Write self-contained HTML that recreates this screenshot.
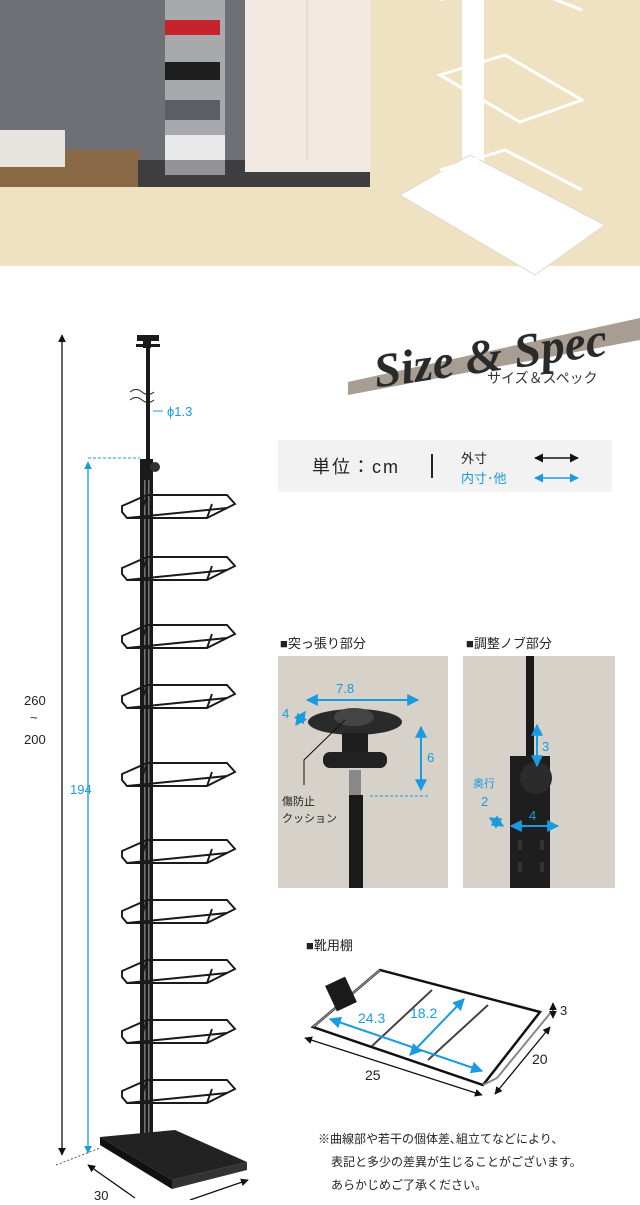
<!DOCTYPE html>
<html><head><meta charset="utf-8"><style>
body{margin:0;width:640px;height:1200px;overflow:hidden;background:#fff;font-family:"Liberation Sans","Noto Sans CJK JP",sans-serif}
</style></head><body>
<svg width="640" height="1200" viewBox="0 0 640 1200" xmlns="http://www.w3.org/2000/svg" font-family="Liberation Sans, Noto Sans CJK JP, sans-serif">
<defs>
<marker id="ak" viewBox="0 0 10 10" refX="9" refY="5" markerWidth="6" markerHeight="6" orient="auto-start-reverse"><path d="M0,0L10,5L0,10z" fill="#111"/></marker>
<marker id="ab" viewBox="0 0 10 10" refX="9" refY="5" markerWidth="6" markerHeight="6" orient="auto-start-reverse"><path d="M0,0L10,5L0,10z" fill="#1a9be0"/></marker>
<g id="shelf" fill="none" stroke="#1a1a1a" stroke-width="1.9">
<path d="M-25,6 L0,-5 L80,-5 L88,4 L60,18 L-20,18 L-25,12 Z"/>
<path d="M0,-5 L-5,10 M60,18 L65,4 M-20,18 L80,8"/>
</g>
</defs>
<rect x="0" y="0" width="640" height="266" fill="#efe2c3"/>
<rect x="0" y="0" width="370" height="187" fill="#6f7075"/>
<rect x="0" y="150" width="140" height="37" fill="#8a6a46"/>
<rect x="138" y="160" width="232" height="27" fill="#3e3e40"/>
<rect x="245" y="0" width="125" height="172" fill="#f1e9e2"/>
<line x1="307" y1="0" x2="307" y2="160" stroke="#d9cfc6"/>
<rect x="165" y="0" width="60" height="175" fill="#cfcfd0" opacity=".6"/>
<rect x="165" y="20" width="55" height="15" fill="#c5252a"/>
<rect x="165" y="62" width="55" height="18" fill="#1e1e1e"/>
<rect x="165" y="100" width="55" height="20" fill="#5a5f66"/>
<rect x="165" y="135" width="60" height="25" fill="#e9e9e9"/>
<rect x="0" y="130" width="65" height="37" fill="#e7e4df"/>
<rect x="462" y="0" width="22" height="185" fill="#fff"/>
<polygon points="400,195 470,155 605,225 535,275" fill="#fff" stroke="#e0d9cc"/>
<g fill="none" stroke="#fff" stroke-width="3"><path d="M440,75 L505,55 L582,100 L520,122 Z"/><path d="M440,0 L505,-20 L582,10"/><path d="M440,170 L505,150 L582,190"/></g>
<polygon points="348,382 640,318 640,340 348,395" fill="#a79d93"/>
<text x="372" y="374" font-family="Liberation Serif, serif" font-style="italic" font-weight="bold" font-size="48" fill="#2a2a2a" transform="rotate(-8 470 350)">Size &amp; Spec</text>
<text x="487" y="383" font-size="14" fill="#333">サイズ＆スペック</text>
<rect x="278" y="440" width="334" height="52" fill="#f2f2f2"/>
<text x="312" y="473" font-size="18" fill="#222" letter-spacing="2">単位：cm</text>
<line x1="432" y1="454" x2="432" y2="478" stroke="#222" stroke-width="2"/>
<text x="461" y="463" font-size="13" fill="#222">外寸</text>
<text x="461" y="483" font-size="13" fill="#1a9be0">内寸･他</text>
<line x1="535" y1="458" x2="578" y2="458" stroke="#111" stroke-width="1.5" marker-start="url(#ak)" marker-end="url(#ak)"/>
<line x1="535" y1="478" x2="578" y2="478" stroke="#1a9be0" stroke-width="1.5" marker-start="url(#ab)" marker-end="url(#ab)"/>
<line x1="62" y1="335" x2="62" y2="1155" stroke="#111" stroke-width="1.3" marker-start="url(#ak)" marker-end="url(#ak)"/>
<text x="24" y="705" font-size="13" fill="#222">260</text>
<text x="30" y="722" font-size="13" fill="#222">~</text>
<text x="24" y="744" font-size="13" fill="#222">200</text>
<line x1="88" y1="462" x2="88" y2="1153" stroke="#1a9be0" stroke-width="1.3" marker-start="url(#ab)" marker-end="url(#ab)"/>
<line x1="88" y1="458" x2="140" y2="458" stroke="#1a9be0" stroke-dasharray="3,2"/>
<text x="70" y="794" font-size="13" fill="#1a9be0">194</text>
<rect x="137" y="335" width="22" height="6" fill="#1a1a1a"/>
<rect x="143" y="340" width="8" height="8" fill="#1a1a1a"/>
<rect x="136" y="344" width="24" height="3" fill="#1a1a1a"/>
<rect x="146" y="348" width="4" height="112" fill="#1a1a1a"/>
<path d="M130,392 q6,-5 12,0 t12,0 M130,400 q6,-5 12,0 t12,0" stroke="#222" fill="none"/>
<line x1="153" y1="411" x2="163" y2="411" stroke="#1a9be0"/>
<text x="167" y="416" font-size="13" fill="#1a9be0">ϕ1.3</text>
<rect x="140" y="459" width="13" height="690" fill="#1a1a1a"/>
<circle cx="155" cy="467" r="5" fill="#333"/>
<g fill="#777">
<rect x="144" y="480" width="1.5" height="660"/><rect x="148" y="480" width="1.5" height="660"/>
</g>
<use href="#shelf" x="147" y="500"/>
<use href="#shelf" x="147" y="562"/>
<use href="#shelf" x="147" y="630"/>
<use href="#shelf" x="147" y="690"/>
<use href="#shelf" x="147" y="768"/>
<use href="#shelf" x="147" y="845"/>
<use href="#shelf" x="147" y="905"/>
<use href="#shelf" x="147" y="965"/>
<use href="#shelf" x="147" y="1025"/>
<use href="#shelf" x="147" y="1085"/>
<polygon points="100,1137 175,1130 247,1162 172,1180" fill="#222"/>
<polygon points="100,1137 100,1145 172,1189 172,1180" fill="#111"/>
<polygon points="172,1180 247,1162 247,1170 172,1189" fill="#333"/>
<line x1="56" y1="1165" x2="100" y2="1148" stroke="#555" stroke-dasharray="2,2"/>
<line x1="88" y1="1165" x2="135" y2="1198" stroke="#111" stroke-width="1.3" marker-start="url(#ak)"/>
<line x1="190" y1="1200" x2="248" y2="1180" stroke="#111" stroke-width="1.3" marker-end="url(#ak)"/>
<text x="94" y="1200" font-size="13" fill="#222">30</text>
<text x="280" y="648" font-size="13" fill="#222">■突っ張り部分</text>
<text x="466" y="648" font-size="13" fill="#222">■調整ノブ部分</text>
<rect x="278" y="656" width="170" height="232" fill="#d6d1c9"/>
<rect x="463" y="656" width="152" height="232" fill="#d6d1c9"/>
<ellipse cx="355" cy="722" rx="47" ry="13" fill="#2a2a2a"/>
<ellipse cx="354" cy="717" rx="20" ry="9" fill="#444"/>
<rect x="342" y="733" width="26" height="25" fill="#1e1e1e"/>
<rect x="323" y="752" width="64" height="16" rx="7" fill="#222"/>
<rect x="349" y="770" width="12" height="28" fill="#888"/>
<rect x="349" y="795" width="14" height="93" fill="#1a1a1a"/>
<line x1="307" y1="700" x2="418" y2="700" stroke="#1a9be0" stroke-width="2" marker-start="url(#ab)" marker-end="url(#ab)"/>
<text x="336" y="693" font-size="13" fill="#1a9be0">7.8</text>
<line x1="296" y1="725" x2="305" y2="712" stroke="#1a9be0" stroke-width="2" marker-start="url(#ab)" marker-end="url(#ab)"/>
<text x="282" y="718" font-size="13" fill="#1a9be0">4</text>
<line x1="421" y1="727" x2="421" y2="790" stroke="#1a9be0" stroke-width="2" marker-start="url(#ab)" marker-end="url(#ab)"/>
<text x="427" y="762" font-size="13" fill="#1a9be0">6</text>
<line x1="370" y1="796" x2="428" y2="796" stroke="#1a9be0" stroke-dasharray="3,2"/>
<path d="M345,720 L304,760 L304,785" stroke="#111" fill="none"/>
<text x="282" y="805" font-size="11" fill="#222">傷防止</text>
<text x="282" y="822" font-size="11" fill="#222">クッション</text>
<rect x="526" y="656" width="8" height="100" fill="#1a1a1a"/>
<rect x="510" y="756" width="40" height="132" fill="#1e1e1e"/>
<circle cx="536" cy="778" r="16" fill="#2b2b2b"/>
<line x1="537" y1="725" x2="537" y2="766" stroke="#1a9be0" stroke-width="2" marker-start="url(#ab)" marker-end="url(#ab)"/>
<text x="542" y="751" font-size="13" fill="#1a9be0">3</text>
<line x1="511" y1="826" x2="558" y2="826" stroke="#1a9be0" stroke-width="2" marker-start="url(#ab)" marker-end="url(#ab)"/>
<text x="529" y="820" font-size="13" fill="#1a9be0">4</text>
<text x="473" y="787" font-size="11" fill="#1a9be0">奥行</text>
<text x="481" y="806" font-size="13" fill="#1a9be0">2</text>
<line x1="490" y1="818" x2="503" y2="826" stroke="#1a9be0" stroke-width="2" marker-start="url(#ab)" marker-end="url(#ab)"/>
<g fill="#333"><rect x="518" y="840" width="4" height="10"/><rect x="540" y="840" width="4" height="10"/><rect x="518" y="862" width="4" height="10"/><rect x="540" y="862" width="4" height="10"/></g>
<text x="306" y="950" font-size="13" fill="#222">■靴用棚</text>
<path d="M313,1027 L380,970 L540,1012 L483,1085 Z" fill="none" stroke="#111" stroke-width="2.5"/>
<path d="M313,1027 L380,970" stroke="#888" stroke-width="1.5"/>
<path d="M372,1046 L432,990 M428,1060 L488,1005" stroke="#444" stroke-width="2"/>
<path d="M483,1085 L497,1078 L552,1011" stroke="#888" stroke-width="2" fill="none"/>
<rect x="330" y="980" width="22" height="28" fill="#1a1a1a" transform="rotate(-25 341 994)"/>
<line x1="330" y1="1019" x2="482" y2="1071" stroke="#1a9be0" stroke-width="2" marker-start="url(#ab)" marker-end="url(#ab)"/>
<text x="358" y="1023" font-size="14" fill="#1a9be0">24.3</text>
<line x1="410" y1="1055" x2="464" y2="999" stroke="#1a9be0" stroke-width="2" marker-start="url(#ab)" marker-end="url(#ab)"/>
<text x="410" y="1018" font-size="14" fill="#1a9be0">18.2</text>
<line x1="305" y1="1038" x2="482" y2="1095" stroke="#111" stroke-width="1.3" marker-start="url(#ak)" marker-end="url(#ak)"/>
<text x="365" y="1080" font-size="14" fill="#222">25</text>
<line x1="495" y1="1094" x2="550" y2="1027" stroke="#111" stroke-width="1.3" marker-start="url(#ak)" marker-end="url(#ak)"/>
<text x="532" y="1064" font-size="14" fill="#222">20</text>
<line x1="553" y1="1003" x2="553" y2="1018" stroke="#111" stroke-width="1.3" marker-start="url(#ak)" marker-end="url(#ak)"/>
<text x="560" y="1015" font-size="13" fill="#222">3</text>
<text x="318" y="1143" font-size="12" fill="#222">※曲線部や若干の個体差､組立てなどにより､</text>
<text x="331" y="1166" font-size="12" fill="#222">表記と多少の差異が生じることがございます。</text>
<text x="331" y="1189" font-size="12" fill="#222">あらかじめご了承ください。</text>
</svg>
</body></html>
